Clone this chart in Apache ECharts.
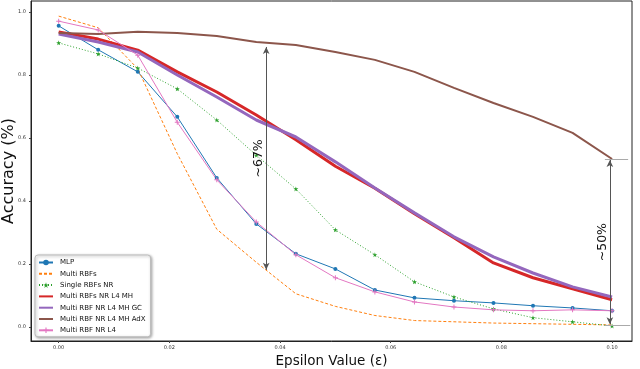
<!DOCTYPE html>
<html>
<head>
<meta charset="utf-8">
<script src="https://cdn.jsdelivr.net/npm/echarts@6/dist/echarts.min.js"></script>
<style>
  html, body { margin: 0; padding: 0; background: #fff; }
  #chart { width: 640px; height: 369px; }
</style>
</head>
<body>
<div id="chart"></div>
<script>
// epsilon steps 0 .. 0.10 (15 points)
const epsilon = [0, 0.00714, 0.01429, 0.02143, 0.02857, 0.03571, 0.04286, 0.05, 0.05714, 0.06429, 0.07143, 0.07857, 0.08571, 0.09286, 0.1]

const mlp = [0.956, 0.88, 0.81, 0.667, 0.473, 0.327, 0.232, 0.184, 0.117, 0.092, 0.083, 0.076, 0.067, 0.06, 0.051]
const multiRbfs = [0.987, 0.95, 0.82, 0.55, 0.31, 0.205, 0.105, 0.065, 0.036, 0.02, 0.016, 0.012, 0.01, 0.008, 0.006]
const singleRbfsNr = [0.902, 0.867, 0.822, 0.756, 0.657, 0.545, 0.438, 0.308, 0.229, 0.143, 0.095, 0.057, 0.029, 0.016, 0.003]
const multiRbfsNrL4Mh = [0.937, 0.914, 0.879, 0.81, 0.746, 0.673, 0.594, 0.51, 0.44, 0.359, 0.283, 0.203, 0.156, 0.121, 0.086]
const multiRbfNrL4MhGc = [0.93, 0.905, 0.873, 0.8, 0.73, 0.657, 0.603, 0.524, 0.441, 0.362, 0.286, 0.222, 0.171, 0.127, 0.095]
const multiRbfNrL4MhAdx = [0.933, 0.93, 0.937, 0.933, 0.924, 0.905, 0.895, 0.873, 0.848, 0.81, 0.759, 0.711, 0.667, 0.616, 0.533]
const multiRbfNrL4 = [0.971, 0.943, 0.863, 0.65, 0.467, 0.333, 0.229, 0.156, 0.111, 0.079, 0.063, 0.054, 0.051, 0.054, 0.051]

const xTicks = [0, 0.02, 0.04, 0.06, 0.08, 0.1]
const yTicks = [0, 0.2, 0.4, 0.6, 0.8, 1.0]

const font = 'DejaVu Sans'
const starPath = 'path://M50,0L61,35L98,35L68,57L79,91L50,70L21,91L32,57L2,35L39,35Z'
const plusPath = 'path://M4,0h2v4h4v2h-4v4h-2v-4h-4v-2h4z'

function pairs (ys) {
  let out = []
  for (let i = 0; i < epsilon.length; i++) {
    out.push([epsilon[i], ys[i]])
  }
  return out
}

let chart = echarts.init(document.getElementById('chart'), null, {renderer: 'canvas'})
let option = {
  animation: false,
  textStyle: {fontFamily: font},
  grid: {
    left: 31, top: 1, right: 8, bottom: 28,
    outerBoundsMode: 'none',
    containLabel: false,
    show: true, borderColor: '#222', borderWidth: 1
  },
  legend: {
    orient: 'vertical',
    left: 35,
    top: 255,
    itemWidth: 14,
    itemHeight: 7,
    itemGap: 4.3,
    padding: [4, 5, 3, 3],
    backgroundColor: '#fff',
    borderColor: '#bbb',
    borderWidth: 1,
    borderRadius: 3,
    shadowColor: 'rgba(0,0,0,0.35)',
    shadowBlur: 3,
    shadowOffsetX: 1,
    shadowOffsetY: 1,
    textStyle: {fontSize: 7, color: '#111', fontFamily: font, padding: [0, 0, 0, 2]}
  },
  xAxis: {
    type: 'value',
    min: -0.005,
    max: 0.1036,
    name: 'Epsilon Value (\u03b5)',
    nameLocation: 'middle',
    nameGap: 12,
    nameTextStyle: {fontSize: 13.5, color: '#111', fontFamily: font},
    axisLine: {show: true, onZero: false, lineStyle: {color: '#222'}},
    axisTick: {show: true, customValues: xTicks, length: 2, lineStyle: {color: '#444'}},
    axisLabel: {
      customValues: xTicks, fontSize: 5, color: '#333', margin: 4,
      formatter: v => v.toFixed(2)
    },
    splitLine: {show: false}
  },
  yAxis: {
    type: 'value',
    min: -0.045,
    max: 1.035,
    name: 'Accuracy (%)',
    nameLocation: 'middle',
    nameGap: 14,
    nameMoveOverlap: false,
    nameTextStyle: {fontSize: 16, color: '#111', fontFamily: font},
    axisLine: {show: true, onZero: false, lineStyle: {color: '#222'}},
    axisTick: {show: true, customValues: yTicks, length: 2, lineStyle: {color: '#444'}},
    axisLabel: {
      customValues: yTicks, fontSize: 5, color: '#333', margin: 5,
      formatter: v => v.toFixed(1)
    },
    splitLine: {show: false}
  },
  series: [
    {
      name: 'MLP', type: 'line', data: pairs(mlp),
      symbol: 'circle', symbolSize: 4, showSymbol: true,
      lineStyle: {color: '#1f77b4', width: 1}, itemStyle: {color: '#1f77b4'}
    },
    {
      name: 'Multi RBFs', type: 'line', data: pairs(multiRbfs),
      symbol: 'none',
      lineStyle: {color: '#ff7f0e', width: 1, type: [3, 2]}, itemStyle: {color: '#ff7f0e'}
    },
    {
      name: 'Single RBFs NR', type: 'line', data: pairs(singleRbfsNr),
      symbol: starPath, symbolSize: 5,
      lineStyle: {color: '#2ca02c', width: 1, type: [1, 2]}, itemStyle: {color: '#2ca02c'}
    },
    {
      name: 'Multi RBFs NR L4 MH', type: 'line', data: pairs(multiRbfsNrL4Mh),
      symbol: 'none',
      lineStyle: {color: '#d62728', width: 3}, itemStyle: {color: '#d62728'}
    },
    {
      name: 'Multi RBF NR L4 MH GC', type: 'line', data: pairs(multiRbfNrL4MhGc),
      symbol: 'none',
      lineStyle: {color: '#9467bd', width: 3}, itemStyle: {color: '#9467bd'}
    },
    {
      name: 'Multi RBF NR L4 MH AdX', type: 'line', data: pairs(multiRbfNrL4MhAdx),
      symbol: 'none',
      lineStyle: {color: '#8c564b', width: 2}, itemStyle: {color: '#8c564b'}
    },
    {
      name: 'Multi RBF NR L4', type: 'line', data: pairs(multiRbfNrL4),
      symbol: plusPath, symbolSize: 5,
      lineStyle: {color: '#e377c2', width: 1}, itemStyle: {color: '#e377c2'}
    },
    {
      // annotation arrows
      name: 'annot', type: 'line', data: [], silent: true,
      markLine: {
        silent: true,
        symbol: ['arrow', 'arrow'],
        symbolSize: [5, 7],
        lineStyle: {color: '#555', width: 1, type: 'solid'},
        label: {show: false},
        data: [
          [
            {coord: [0.0375, 0.181], label: {show: true, position: 'insideMiddleTop', formatter: '~67%', fontSize: 12.5, color: '#111', distance: 1}},
            {coord: [0.0375, 0.889]}
          ],
          [
            {coord: [0.0996, 0.008], label: {show: true, position: 'insideMiddleTop', formatter: '~50%', fontSize: 12.5, color: '#111', distance: 1}},
            {coord: [0.0996, 0.53]}
          ],
          [
            {coord: [0.0987, 0.533], symbol: 'none', lineStyle: {color: '#aaa'}},
            {coord: [0.1029, 0.533], symbol: 'none'}
          ],
          [
            {coord: [0.0987, 0.006], symbol: 'none', lineStyle: {color: '#aaa'}},
            {coord: [0.1033, 0.006], symbol: 'none'}
          ]
        ]
      }
    }
  ]
}
// line-only entries get an invisible marker in the legend
const noMarker = {color: 'rgba(0,0,0,0)', borderWidth: 0}
option.legend.data = option.series.slice(0, 7).map(s => {
  if (s.symbol === 'none') {
    return {name: s.name, itemStyle: noMarker}
  }
  return {name: s.name}
})
chart.setOption(option)
</script>
</body>
</html>
